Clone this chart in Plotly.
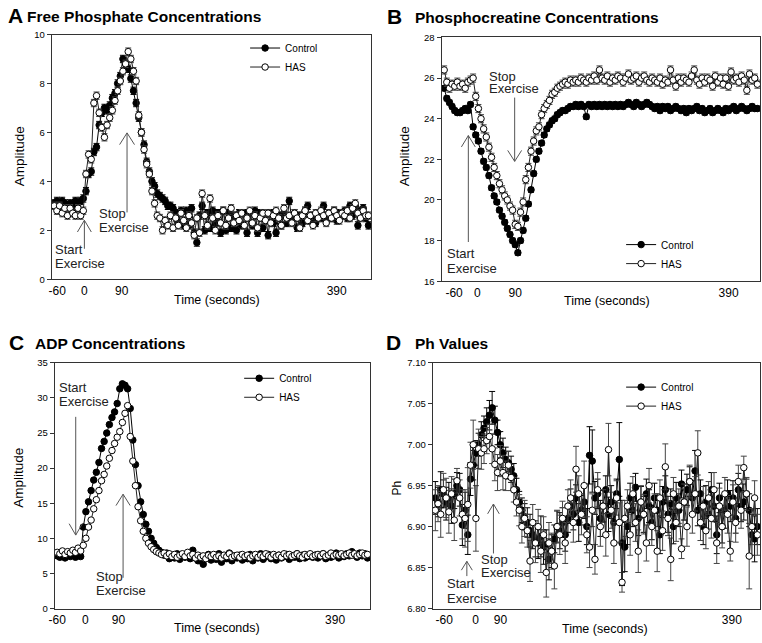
import plotly.graph_objects as go

W, H = 762, 643
FONT = "Liberation Sans, Arial, sans-serif"

sample = list(range(120))
tick_text = ["-60", "0", "90", "390"]

# ---------------- Panel A: Free phosphate ----------------
a_ticks = [1.14, 11.4, 25.57, 106.97]
a_control = [
    3.1, 3.2, 3.1, 3.2, 3.1, 3.0, 3.1, 3.0, 3.2, 3.1, 3.2, 3.3,
    3.6, 4.3, 4.4, 5.2, 5.4, 6.3, 6.8, 7.0,
    6.9, 7.1, 7.4, 7.6, 8.0, 8.3, 9.0, 8.8, 8.6, 8.2,
    7.7, 7.2, 6.6, 6.0, 5.5, 4.8, 4.4, 4.0, 3.8, 3.5,
    3.4, 3.3, 3.2, 3.0, 3.0, 2.9, 2.7, 2.3, 2.8, 2.2,
    2.8, 2.2, 2.9, 1.9, 1.5, 2.6, 3.0, 2.0, 2.7, 2.1,
    2.8, 2.3, 2.7, 1.9, 2.8, 2.0, 2.7, 2.1, 2.6, 2.0,
    2.7, 2.2, 2.7, 1.9, 2.7, 2.2, 2.8, 1.9, 2.7, 2.1,
    2.6, 1.8, 2.7, 2.3, 1.9, 2.6, 2.2, 2.7, 2.3, 3.2,
    2.4, 2.7, 2.1, 2.6, 2.3, 2.8, 3.0, 2.4, 2.6, 2.3,
    2.7, 2.5, 3.0, 2.4, 2.7, 2.5, 2.8, 2.4, 2.7, 2.6,
    2.8, 2.5, 3.0, 2.6, 3.0, 2.2, 2.8, 2.9, 2.5, 2.2,
]
a_has = [
    3.0, 2.8, 3.0, 2.7, 2.9, 2.6, 2.9, 2.7, 2.6, 2.9, 2.6, 2.8,
    4.3, 5.1, 4.9, 7.2, 7.5, 6.8, 6.2, 5.8,
    6.3, 6.6, 6.9, 7.3, 7.7, 8.1, 8.5, 8.8, 9.3, 9.0,
    8.5, 8.1, 6.7, 6.0, 5.3, 4.7, 4.3, 3.6, 3.1, 2.6,
    2.5, 2.0, 2.4, 2.2, 2.6, 2.1, 2.5, 2.2, 2.7, 2.4,
    2.1, 2.6, 2.3, 1.8, 2.5, 1.9, 3.5, 2.6, 2.2, 3.3,
    2.5, 2.0, 2.6, 2.3, 2.8, 2.2, 2.5, 2.9, 2.3, 2.6,
    2.4, 2.7, 2.2, 2.5, 2.8, 2.3, 2.6, 2.1, 2.5, 2.7,
    2.4, 2.7, 2.3, 2.6, 2.8, 2.5, 2.2, 2.9, 2.5, 2.6,
    2.3, 2.7, 2.5, 2.1, 2.6, 2.8, 2.4, 2.6, 2.2, 2.7,
    2.5, 2.8, 2.6, 2.3, 2.7, 2.5, 2.8, 2.6, 2.4, 2.7,
    2.6, 2.8, 2.5, 2.9, 3.1, 2.7, 2.5, 2.8, 2.6, 2.6,
]

# ---------------- Panel B: Phosphocreatine ----------------
b_ticks = [3.78, 12.57, 27.0, 108.05]
b_control = [
    25.5, 25.0, 24.8, 24.6, 24.4, 24.3, 24.3, 24.4, 24.5, 24.4, 24.7,
    23.6, 23.2, 22.9, 22.4, 21.9, 21.6, 21.2, 20.6, 20.2,
    19.9, 19.5, 19.2, 18.9, 18.6, 18.3, 18.0, 17.8, 17.4, 18.0,
    18.5, 19.1, 19.8, 20.5, 21.3, 22.0, 22.4, 22.8, 23.2, 23.5,
    23.7, 23.9, 24.0, 24.2, 24.3, 24.4, 24.4, 24.5, 24.6, 24.6,
    24.7, 24.6, 24.7, 24.6, 24.1, 24.7, 24.6, 24.7, 24.6, 24.7,
    24.6, 24.7, 24.6, 24.7, 24.6, 24.7, 24.6, 24.7, 24.6, 24.7,
    24.8, 24.7, 24.6, 24.8, 24.7, 24.6, 24.7, 24.8, 24.7, 24.6,
    24.5, 24.6, 24.4, 24.6, 24.5, 24.6, 24.4, 24.5, 24.6, 24.5,
    24.4, 24.5, 24.3, 24.5, 24.4, 24.5, 24.6, 24.4, 24.5, 24.3,
    24.4, 24.5, 24.3, 24.4, 24.5, 24.4, 24.3, 24.5, 24.4, 24.5,
    24.6, 24.4, 24.5, 24.6, 24.5, 24.4, 24.5, 24.6, 24.5, 24.5,
]
b_has = [
    26.4, 25.8, 25.5, 25.7, 25.6, 25.8, 25.6, 25.7, 25.5, 25.8, 25.9, 26.0,
    25.1, 24.5, 24.0, 23.5, 23.1, 22.6, 22.1, 21.6,
    21.2, 20.8, 20.5, 20.2, 20.0, 19.7, 19.5, 18.8, 18.7,
    19.4, 19.9, 21.0, 21.6, 22.4, 22.9, 23.4, 23.6, 24.2, 24.5, 24.7,
    24.9, 25.2, 25.3, 25.5, 25.6, 25.7, 25.8, 25.7, 25.9, 25.8,
    25.9, 25.8, 26.0, 25.9, 25.8, 26.0, 25.9, 26.1, 25.9, 26.4,
    26.0, 25.9, 26.1, 25.8, 26.0, 25.9, 26.1, 26.0, 25.8, 26.0,
    26.2, 25.9, 26.0, 26.1, 25.8, 26.0, 26.1, 25.9, 25.8, 26.0,
    25.9, 25.8, 26.0, 25.7, 25.9, 25.8, 26.4, 25.9, 25.6, 26.0,
    25.8, 26.0, 25.9, 25.8, 26.1, 26.4, 25.9, 25.7, 26.0, 25.8,
    26.0, 25.9, 25.6, 26.1, 25.8, 26.0, 25.7, 26.0, 25.6, 26.3,
    25.9, 26.0, 25.8, 26.1, 25.9, 25.4, 26.2, 25.9, 26.0, 25.7,
]

# ---------------- Panel C: ADP ----------------
c_ticks = [0.02, 10.8, 23.48, 106.57]
c_control = [
    7.5, 7.3, 7.8, 7.2, 7.6, 7.4, 7.9, 7.3, 7.5, 7.4,
    11.6, 13.8, 15.2, 16.8, 18.3, 19.4, 20.8, 22.8, 23.8, 25.0,
    26.2, 27.2, 28.0, 29.2, 31.3, 32.0, 31.8, 31.3, 28.5, 24.0,
    20.5, 17.5, 15.2, 13.4, 12.0, 11.0, 10.0, 9.3, 8.7, 8.3,
    8.0, 7.6, 7.9, 7.1, 7.6, 7.2, 7.8, 7.0, 7.6, 7.3,
    7.5, 7.1, 8.3, 7.2, 6.8, 7.4, 6.3, 7.2, 7.7, 6.9,
    7.5, 7.0, 7.8, 6.6, 7.4, 7.1, 7.9, 6.8, 7.5, 7.2,
    7.6, 6.9, 7.4, 7.1, 7.7, 6.8, 7.5, 7.2, 7.8, 7.0,
    7.4, 7.7, 7.1, 7.5, 6.9, 7.6, 7.2, 7.4, 7.7, 7.0,
    7.5, 7.3, 7.8, 7.1, 7.6, 7.2, 7.4, 7.7, 7.3, 7.6,
    7.2, 7.5, 7.8, 7.1, 7.6, 7.3, 7.5, 7.9, 7.2, 7.6,
    7.4, 7.8, 7.5, 8.1, 7.6, 7.3, 7.9, 7.5, 7.8, 7.2,
]
c_has = [
    8.0, 7.8, 8.2, 7.7, 8.1, 7.9, 8.3, 8.0, 8.6, 8.2,
    9.0, 10.0, 11.6, 12.6, 14.2, 15.5, 16.8, 18.2, 19.1, 20.3,
    21.4, 22.5, 23.5, 24.4, 25.2, 26.5, 27.8, 28.9, 24.5, 21.0,
    17.5, 14.5, 12.5, 11.0, 10.0, 9.3, 8.8, 8.4, 8.1, 7.9,
    7.7, 7.9, 7.5, 7.8, 7.4, 7.7, 7.3, 7.6, 7.8, 7.4,
    8.0, 7.5, 7.7, 7.2, 7.6, 7.3, 7.5, 7.1, 7.6, 7.4,
    7.7, 7.3, 7.5, 7.2, 7.6, 7.4, 7.8, 7.3, 7.5, 7.6,
    7.3, 7.7, 7.4, 7.6, 7.2, 7.5, 7.7, 7.3, 7.6, 7.4,
    7.8, 7.5, 7.3, 7.7, 7.4, 7.6, 7.3, 7.8, 7.5, 7.7,
    7.4, 7.6, 7.8, 7.5, 7.3, 7.7, 7.5, 7.8, 7.4, 7.6,
    7.7, 7.5, 7.8, 7.4, 7.6, 7.9, 7.5, 7.7, 7.6, 7.8,
    7.5, 7.7, 7.9, 7.6, 7.8, 7.5, 7.7, 7.9, 7.6, 7.7,
]

# ---------------- Panel D: pH ----------------
d_ticks = [3.28, 14.89, 24.05, 109.6]
d_control = [
    6.935, 6.930, 6.945, 6.940, 6.928, 6.935, 6.925, 6.940, 6.950, 6.945,
    6.902, 6.920, 6.890, 6.958, 6.975, 6.990, 7.000, 7.012, 7.020, 7.028,
    7.036, 7.045, 7.030, 7.015, 7.000, 6.990, 6.982, 6.978, 6.970, 6.962,
    6.945, 6.930, 6.920, 6.912, 6.905, 6.895, 6.890, 6.885, 6.880, 6.888,
    6.875, 6.878, 6.860, 6.870, 6.885, 6.900, 6.895, 6.905, 6.890, 6.910,
    6.925, 6.915, 6.935, 6.905, 6.920, 6.930, 6.900, 6.987, 6.980, 6.935,
    6.940, 6.910, 6.925, 6.945, 6.915, 6.930, 6.905, 6.940, 6.982, 6.880,
    6.875, 6.900, 6.935, 6.920, 6.948, 6.910, 6.930, 6.915, 6.940, 6.925,
    6.905, 6.935, 6.920, 6.890, 6.930, 6.945, 6.915, 6.928, 6.900, 6.935,
    6.920, 6.952, 6.930, 6.945, 6.955, 6.935, 6.968, 6.920, 6.940, 6.900,
    6.930, 6.915, 6.945, 6.925, 6.890, 6.935, 6.900, 6.920, 6.940, 6.925,
    6.935, 6.910, 6.945, 6.925, 6.930, 6.940, 6.920, 6.890, 6.885, 6.900,
]
d_control_err = [
    0.020, 0.018, 0.022, 0.017, 0.020, 0.019, 0.021, 0.018, 0.016, 0.020,
    0.025, 0.022, 0.024, 0.020, 0.018, 0.015, 0.014, 0.016, 0.015, 0.017,
    0.018, 0.020, 0.017, 0.015, 0.016, 0.018, 0.015, 0.014, 0.016, 0.015,
    0.014, 0.013, 0.015, 0.016, 0.018, 0.020, 0.017, 0.022, 0.019, 0.025,
    0.021, 0.018, 0.025, 0.020, 0.017, 0.019, 0.022, 0.018, 0.020, 0.017,
    0.021, 0.019, 0.016, 0.023, 0.018, 0.020, 0.022, 0.035, 0.038, 0.020,
    0.018, 0.022, 0.019, 0.017, 0.021, 0.020, 0.024, 0.018, 0.045, 0.052,
    0.030, 0.022, 0.018, 0.020, 0.017, 0.021, 0.019, 0.022, 0.018, 0.020,
    0.021, 0.018, 0.020, 0.023, 0.019, 0.017, 0.022, 0.018, 0.021, 0.019,
    0.020, 0.017, 0.022, 0.019, 0.018, 0.021, 0.025, 0.019, 0.017, 0.022,
    0.020, 0.018, 0.021, 0.019, 0.023, 0.018, 0.020, 0.022, 0.017, 0.019,
    0.021, 0.018, 0.020, 0.019, 0.022, 0.018, 0.020, 0.025, 0.028, 0.022,
]
d_has = [
    6.920, 6.928, 6.915, 6.945, 6.935, 6.918, 6.940, 6.908, 6.956, 6.935,
    6.915, 6.910, 6.927, 6.975, 7.000, 6.910, 6.995, 6.990, 6.995, 7.005,
    7.010, 6.995, 6.976, 6.966, 6.980, 6.966, 6.962, 6.975, 6.960, 6.945,
    6.930, 6.920, 6.900, 6.910, 6.895, 6.858, 6.905, 6.880, 6.900, 6.870,
    6.890, 6.844, 6.880, 6.870, 6.852, 6.900, 6.890, 6.910, 6.880, 6.925,
    6.935, 6.905, 6.970, 6.940, 6.915, 6.950, 6.890, 6.875, 6.920, 6.860,
    6.945, 6.900, 6.925, 6.890, 6.994, 6.920, 6.880, 6.935, 6.905, 6.832,
    6.910, 6.925, 6.890, 6.940, 6.905, 6.870, 6.930, 6.915, 6.880, 6.950,
    6.900, 6.920, 6.870, 6.935, 6.895, 6.973, 6.910, 6.860, 6.940, 6.905,
    6.925, 6.873, 6.930, 6.900, 6.955, 6.915, 6.940, 6.990, 6.905, 6.925,
    6.895, 6.935, 6.910, 6.945, 6.880, 6.925, 6.900, 6.940, 6.915, 6.870,
    6.930, 6.905, 6.955, 6.920, 6.972, 6.940, 6.864, 6.900, 6.935, 6.890,
]
d_has_err = [
    0.025, 0.022, 0.028, 0.020, 0.024, 0.026, 0.021, 0.025, 0.015, 0.022,
    0.030, 0.035, 0.045, 0.028, 0.030, 0.040, 0.024, 0.020, 0.018, 0.016,
    0.015, 0.018, 0.020, 0.022, 0.019, 0.021, 0.018, 0.017, 0.016, 0.015,
    0.017, 0.019, 0.020, 0.022, 0.020, 0.025, 0.022, 0.024, 0.021, 0.026,
    0.022, 0.030, 0.025, 0.022, 0.028, 0.020, 0.024, 0.021, 0.025, 0.020,
    0.022, 0.024, 0.028, 0.022, 0.025, 0.030, 0.022, 0.025, 0.020, 0.018,
    0.021, 0.024, 0.020, 0.026, 0.032, 0.022, 0.025, 0.021, 0.024, 0.012,
    0.022, 0.020, 0.025, 0.021, 0.023, 0.026, 0.020, 0.024, 0.022, 0.021,
    0.023, 0.020, 0.025, 0.022, 0.024, 0.028, 0.021, 0.026, 0.020, 0.023,
    0.021, 0.012, 0.022, 0.024, 0.020, 0.023, 0.021, 0.027, 0.022, 0.024,
    0.022, 0.020, 0.024, 0.021, 0.025, 0.022, 0.026, 0.020, 0.023, 0.012,
    0.021, 0.024, 0.020, 0.022, 0.014, 0.020, 0.040, 0.022, 0.021, 0.025,
]

fig = go.Figure()

panels = [
    ("", a_control, a_has, 0.15, 0.15, "legend"),
    ("2", b_control, b_has, 0.12, 0.2, "legend2"),
    ("3", c_control, c_has, None, None, "legend3"),
    ("4", d_control, d_has, d_control_err, d_has_err, "legend4"),
]


def err(v, color):
    if v is None:
        return None
    if isinstance(v, list):
        return dict(type="data", array=v, color=color, thickness=1, width=3)
    return dict(type="constant", value=v, color=color, thickness=1, width=3)


for key, ctrl, has, cerr, herr, leg in panels:
    fig.add_trace(go.Scatter(
        x=sample, y=ctrl, name="Control", mode="lines+markers",
        xaxis="x" + key, yaxis="y" + key, legend=leg,
        line=dict(color="black", width=1),
        marker=dict(symbol="circle", size=6.5, color="black",
                    line=dict(color="black", width=1)),
        error_y=err(cerr, "black"),
    ))
    fig.add_trace(go.Scatter(
        x=sample, y=has, name="HAS", mode="lines+markers",
        xaxis="x" + key, yaxis="y" + key, legend=leg,
        line=dict(color="#222222", width=1),
        marker=dict(symbol="circle", size=6.5, color="white",
                    line=dict(color="black", width=1)),
        error_y=err(herr, "#444444"),
    ))


def xdom(p0, p1):
    return [p0 / W, p1 / W]


def ydom(top, bottom):
    return [1 - bottom / H, 1 - top / H]


axis_line = dict(showline=True, mirror=True, linecolor="#333333", linewidth=1,
                 showgrid=False, zeroline=False)

layouts = [
    ("", xdom(46, 368), ydom(29, 278), a_ticks, [0, 10], 2, None),
    ("2", xdom(439, 760), ydom(32, 280), b_ticks, [16, 28], 2, None),
    ("3", xdom(49, 367), ydom(363, 613), c_ticks, [0, 35], 5, None),
    ("4", xdom(430, 760), ydom(363, 613), d_ticks, [6.80, 7.10], 0.05, ".2f"),
]

lay = {}
for key, xd, yd, ticks, yr, dt, fmt in layouts:
    n = key if key else ""
    lay["xaxis" + n] = dict(
        domain=xd, anchor="y" + n, range=[-1, 120], tickmode="array",
        tickvals=ticks, ticktext=tick_text, ticks="",
        tickfont=dict(size=12, color="black"), **axis_line)
    yax = dict(
        domain=yd, anchor="x" + n, range=yr, dtick=dt, tick0=yr[0],
        ticks="outside", ticklen=4, tickwidth=1, tickcolor="#333333",
        tickfont=dict(size=9.5, color="black"), **axis_line)
    if fmt:
        yax["tickformat"] = fmt
    lay["yaxis" + n] = yax

# ---------------- Annotations (titles, axis labels, arrow text) ----------------
ann = []


def ptext(text, px, py, size, bold=False, xanchor="left", angle=0, color="black"):
    ann.append(dict(
        text=("<b>%s</b>" % text) if bold else text,
        x=px / W, y=1 - py / H, xref="paper", yref="paper",
        xanchor=xanchor, yanchor="middle", showarrow=False, textangle=angle,
        font=dict(family=FONT, size=size, color=color)))


# panel titles
ptext("A", 0, 10, 21, True)
ptext("Free Phosphate Concentrations", 19, 11, 15.5, True)
ptext("B", 382, 11, 21, True)
ptext("Phosphocreatine Concentrations", 410, 12, 15.5, True)
ptext("C", 1, 342, 21, True)
ptext("ADP Concentrations", 27, 343, 15.5, True)
ptext("D", 381, 342, 21, True)
ptext("Ph Values", 410, 343, 15.5, True)

# axis titles
ptext("Time (seconds)", 213, 299, 12.5, xanchor="center")
ptext("Time (seconds)", 606, 300, 12.5, xanchor="center")
ptext("Time (seconds)", 213, 633, 12.5, xanchor="center")
ptext("Time (seconds)", 604, 634, 12.5, xanchor="center")
ptext("Amplitude", 13, 153, 13.5, xanchor="center", angle=-90)
ptext("Amplitude", 402, 153, 13.5, xanchor="center", angle=-90)
ptext("Amplitude", 13, 480, 13.5, xanchor="center", angle=-90)
ptext("Ph", 394, 490, 12, xanchor="center", angle=-90)


def dtext(text, key, x, y):
    n = key if key else ""
    ann.append(dict(
        text=text, x=x, y=y, xref="x" + n, yref="y" + n,
        xanchor="left", yanchor="middle", showarrow=False,
        font=dict(family=FONT, size=13, color="#222222")))


# event labels (data coordinates of each panel)
dtext("Start", "", -0.6, 1.2)
dtext("Exercise", "", -0.6, 0.64)
dtext("Stop", "", 16.0, 2.68)
dtext("Exercise", "", 16.0, 2.13)

dtext("Start", "2", 0.2, 17.35)
dtext("Exercise", "2", 0.2, 16.63)
dtext("Stop", "2", 16.4, 26.1)
dtext("Exercise", "2", 16.4, 25.47)

dtext("Start", "3", -0.2, 31.5)
dtext("Exercise", "3", -0.2, 29.54)
dtext("Stop", "3", 14.0, 4.62)
dtext("Exercise", "3", 14.0, 2.52)

dtext("Start", "4", 3.5, 6.8306)
dtext("Exercise", "4", 3.5, 6.8126)
dtext("Stop", "4", 16.3, 6.860)
dtext("Exercise", "4", 16.3, 6.8436)

# ---------------- Arrows (open V heads), data coordinates ----------------
# (tip_x, tip_y, tail_y, arm_dx, arm_y)
arrows = [
    ("", 11.4, 2.41, 1.245, 2.63, 1.93),
    ("", 27.56, 5.98, 2.73, 2.82, 5.50),
    ("2", 9.18, 23.17, 17.93, 2.64, 22.61),
    ("2", 26.78, 21.90, 25.04, 2.64, 22.44),
    ("3", 7.10, 10.46, 27.3, 2.53, 12.08),
    ("3", 25.26, 16.28, 4.38, 2.72, 14.66),
    ("4", 11.65, 6.8576, 6.8396, 2.02, 6.8468),
    ("4", 21.48, 6.9276, 6.8672, 2.15, 6.9156),
]
shapes = []
for key, tx, ty, tail, adx, ay in arrows:
    n = key if key else ""
    style = dict(type="line", xref="x" + n, yref="y" + n,
                 line=dict(color="#555555", width=1))
    shapes.append(dict(x0=tx, y0=ty, x1=tx, y1=tail, **style))
    shapes.append(dict(x0=tx - adx, y0=ay, x1=tx, y1=ty, **style))
    shapes.append(dict(x0=tx + adx, y0=ay, x1=tx, y1=ty, **style))


def legend_at(px, py):
    return dict(x=px / W, y=1 - py / H, xanchor="left", yanchor="top",
                bgcolor="rgba(0,0,0,0)", borderwidth=0,
                font=dict(family=FONT, size=10, color="black"),
                itemwidth=30, tracegroupgap=0)


fig.update_layout(
    width=W, height=H, margin=dict(l=0, r=0, t=0, b=0),
    paper_bgcolor="white", plot_bgcolor="white",
    font=dict(family=FONT, color="black"),
    annotations=ann, shapes=shapes,
    legend=legend_at(241, 28),
    legend2=legend_at(620, 228),
    legend3=legend_at(235, 364),
    legend4=legend_at(620, 373),
    **lay,
)

fig.write_html(
    "out.html",
    config={"displayModeBar": False},
    post_script="document.body.style.margin='0';document.body.style.padding='0';",
)
